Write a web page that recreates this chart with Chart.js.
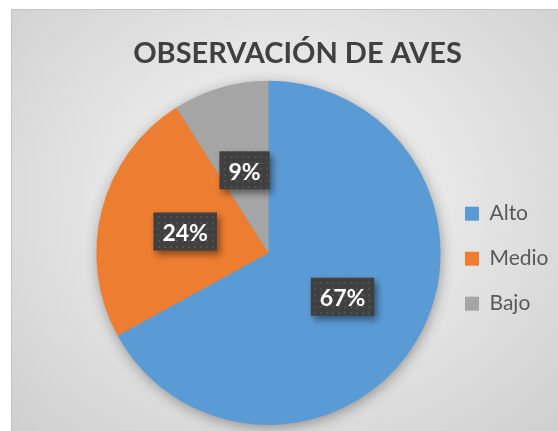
<!DOCTYPE html>
<html>
<head>
<meta charset="utf-8">
<script src="https://cdn.jsdelivr.net/npm/chart.js@4/dist/chart.umd.min.js"></script>
<style>
  html, body { margin: 0; padding: 0; background: #fff; }
  #box {
    position: absolute; left: 11px; top: 9px; width: 547px; height: 422px;
    box-sizing: border-box;
    border-left: 1px solid #c4c4c4; border-top: 1px solid #c4c4c4;
    background: radial-gradient(ellipse at 50% 45%, #f2f2f2 0%, #e6e6e6 45%, #cfcfcf 100%);
  }
</style>
</head>
<body>
<div id="box"><canvas id="chart"></canvas></div>
<script>
// porcentajes de la encuesta
var categorias = ['Alto', 'Medio', 'Bajo'];
var valores = [67, 24, 9];
var colores = ['#5B9BD5', '#ED7D31', '#A5A5A5'];

// fondo punteado de las etiquetas
var pat = document.createElement('canvas');
pat.width = 6; pat.height = 6;
var pc = pat.getContext('2d');
pc.fillStyle = '#404040';
pc.fillRect(0, 0, 6, 6);
pc.fillStyle = '#515151';
pc.fillRect(2, 2, 2, 2);

// la leyenda ocupa poco en el layout, pero se dibuja hasta el borde derecho
var anchoLeyenda = {
  id: 'anchoLeyenda',
  afterLayout: function(chart) {
    var lg = chart.legend;
    lg.right = chart.width;
    lg.width = lg.right - lg.left;
  }
};

var sombraPie = {
  id: 'sombraPie',
  beforeDatasetsDraw: function(chart) {
    var arc = chart.getDatasetMeta(0).data[0];
    if (!arc) return;
    var ctx = chart.ctx;
    ctx.save();
    ctx.shadowColor = 'rgba(0,0,0,0.38)';
    ctx.shadowBlur = 14;
    ctx.shadowOffsetX = 1;
    ctx.shadowOffsetY = 3;
    ctx.fillStyle = colores[0];
    ctx.beginPath();
    ctx.arc(arc.x, arc.y, arc.outerRadius - 1, 0, Math.PI * 2);
    ctx.fill();
    ctx.restore();
  }
};

var etiquetas = {
  id: 'etiquetas',
  afterDatasetsDraw: function(chart) {
    var ctx = chart.ctx;
    var total = valores.reduce(function(a, b) { return a + b; }, 0);
    chart.getDatasetMeta(0).data.forEach(function(arc, i) {
      var p = arc.tooltipPosition();
      var txt = Math.round(valores[i] / total * 100) + '%';
      ctx.save();
      ctx.font = 'bold 23px Lato';
      var w = ctx.measureText(txt).width + 18;
      var h = 38;
      var x = p.x - w / 2, y = p.y - h / 2;
      ctx.shadowColor = 'rgba(0,0,0,0.45)';
      ctx.shadowBlur = 7;
      ctx.shadowOffsetX = 3;
      ctx.shadowOffsetY = 4;
      ctx.fillStyle = ctx.createPattern(pat, 'repeat');
      ctx.fillRect(x, y, w, h);
      ctx.restore();
      ctx.save();
      ctx.font = 'bold 23px Lato';
      ctx.fillStyle = '#ffffff';
      ctx.textAlign = 'center';
      ctx.textBaseline = 'middle';
      ctx.fillText(txt, p.x, p.y + 2);
      ctx.restore();
    });
  }
};

new Chart(document.getElementById('chart'), {
  type: 'pie',
  data: {
    labels: categorias,
    datasets: [{
      data: valores,
      backgroundColor: colores,
      borderWidth: 0,
      hoverOffset: 0
    }]
  },
  options: {
    responsive: true,
    maintainAspectRatio: false,
    animation: false,
    layout: { padding: { left: 84, right: 59, bottom: 6 } },
    plugins: {
      title: {
        display: true,
        text: 'OBSERVACIÓN DE AVES',
        color: '#404040',
        font: { family: 'Lato', size: 29, weight: 'bold' },
        padding: { top: 26, bottom: 10 }
      },
      legend: {
        position: 'right',
        maxWidth: 58,
        title: { display: true, text: '', padding: { top: 34, bottom: 34 } },
        labels: {
          color: '#595959',
          font: { family: 'Lato', size: 21 },
          boxWidth: 14,
          boxHeight: 14,
          padding: 24
        }
      },
      tooltip: { enabled: false }
    }
  },
  plugins: [anchoLeyenda, sombraPie, etiquetas]
});
</script>
</body>
</html>
